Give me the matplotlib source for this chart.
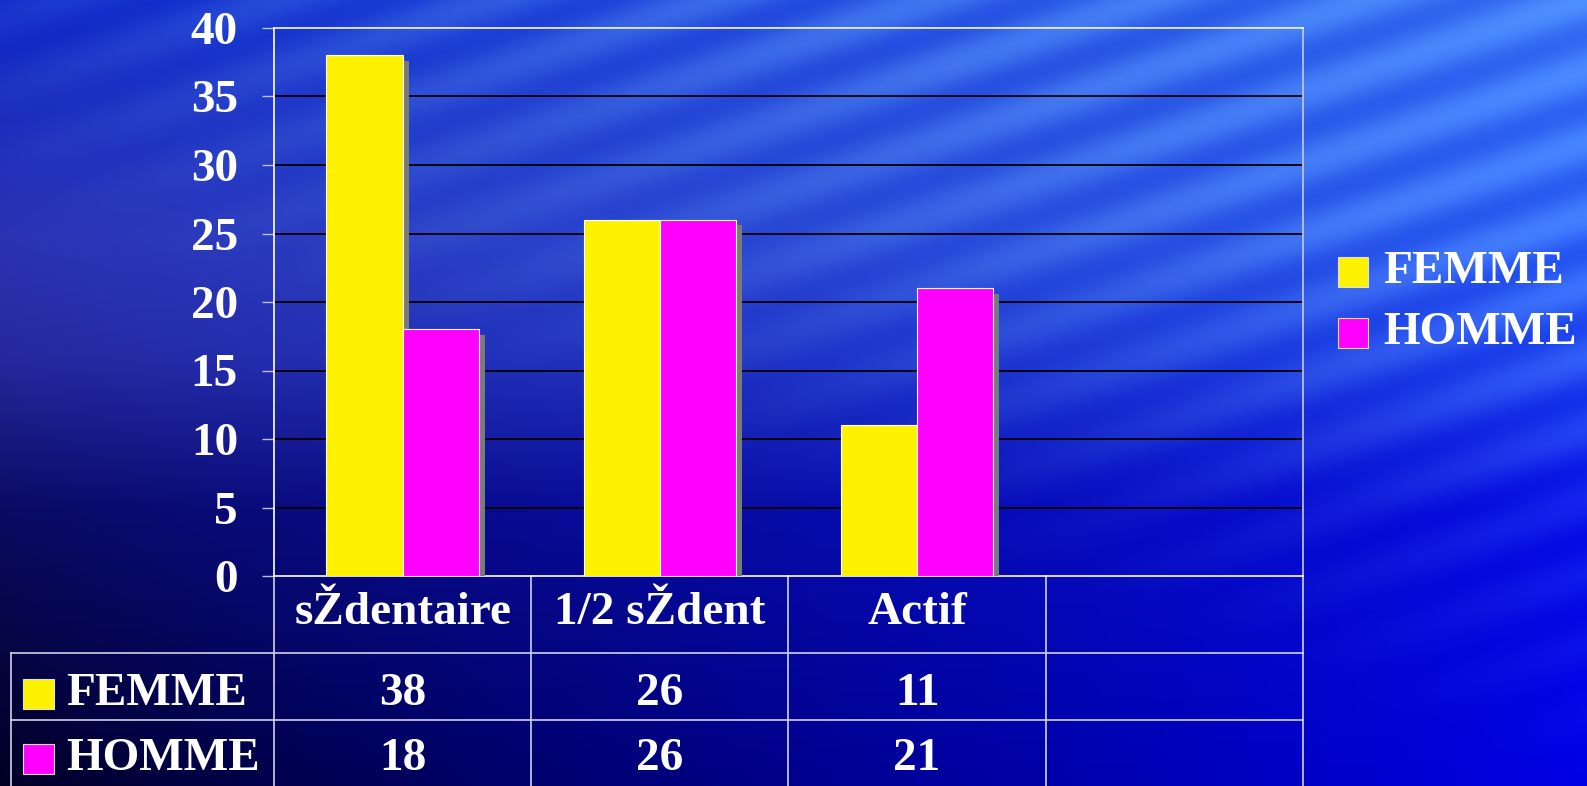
import numpy as np
import matplotlib
matplotlib.use('Agg')
import matplotlib.pyplot as plt
import matplotlib.patheffects as pe
import matplotlib.transforms as mtransforms
from matplotlib.patches import Rectangle
from matplotlib.lines import Line2D

# data
categories = ['sŽdentaire', '1/2 sŽdent', 'Actif', '']
series_names = ['FEMME', 'HOMME']
femme = [38, 26, 11]
homme = [18, 26, 21]
yticks = [0, 5, 10, 15, 20, 25, 30, 35, 40]

W, H = 1587, 786
yellow = '#FFF200'
magenta = '#FF00FF'
font = dict(family='Liberation Serif', weight='bold', size=34, color='white')

fig = plt.figure(figsize=(W / 100, H / 100), dpi=100)

# background: blue gradient with light diagonal streaks
yy, xx = np.mgrid[0:H, 0:W].astype(float)
xf, yf = xx / W, yy / H
knots = [0, 0.3, 0.45, 0.65, 1.0]
left = {'r': [0.05, 0.17, 0.15, 0.04, 0.0],
        'g': [0.15, 0.20, 0.16, 0.04, 0.0],
        'b': [0.78, 0.70, 0.62, 0.38, 0.14]}
right = {'r': [0.20, 0.15, 0.10, 0.02, 0.0],
         'g': [0.42, 0.35, 0.25, 0.05, 0.0],
         'b': [0.95, 0.95, 0.93, 0.90, 0.90]}
w = xf ** 0.9
bg = np.zeros((H, W, 3))
streak = 0.5 + 0.5 * np.sin(2 * np.pi * (yy + 0.33 * xx) / 72)
amp = np.clip(1.2 * xf - 1.6 * yf + 0.4, 0, 1) * 0.18
for i, c in enumerate('rgb'):
    lv = np.interp(yf, knots, left[c])
    rv = np.interp(yf, knots, right[c])
    bg[..., i] = lv * (1 - w) + rv * w + amp * streak * [0.6, 0.8, 0.3][i]
bg = np.clip(bg, 0, 1)
bax = fig.add_axes([0, 0, 1, 1], zorder=-10)
bax.imshow(bg, aspect='auto', interpolation='bilinear')
bax.axis('off')

# main axes
ax_l, ax_r, ax_t, ax_b = 274, 1303, 28, 576
ax = fig.add_axes([ax_l / W, 1 - ax_b / H, (ax_r - ax_l) / W, (ax_b - ax_t) / H])
ax.patch.set_alpha(0)

x = np.arange(len(femme))
bw = 0.296
shadow = [pe.SimplePatchShadow(offset=(4.3, -3.8), shadow_rgbFace='#7a7a7a', alpha=1.0), pe.Normal()]
ax.bar(x - bw / 2, femme, bw, color=yellow, edgecolor='white', linewidth=0.8, path_effects=shadow, zorder=3)
ax.bar(x + bw / 2, homme, bw, color=magenta, edgecolor='white', linewidth=0.8, path_effects=shadow, zorder=3)

ax.set_xlim(-0.5, len(categories) - 0.5)
ax.set_ylim(0, 40)
ax.set_yticks(yticks)
ax.set_yticklabels([str(v) for v in yticks], fontdict=font)
ax.tick_params(axis='y', colors='#c0c0dc', labelcolor='white', length=9, width=1, pad=17)
ax.set_xticks([])
ax.grid(axis='y', color='black', linewidth=1.3, zorder=1)
ax.set_axisbelow(True)
for s in ['left', 'top', 'bottom']:
    ax.spines[s].set_color('white')
    ax.spines[s].set_linewidth(1.2)
ax.spines['right'].set_color('#c8c8e8')
ax.spines['right'].set_linewidth(1.2)

# data table under the axes
def yaf(px):
    return (ax_b - px) / (ax_b - ax_t)

trans = mtransforms.blended_transform_factory(ax.transData, ax.transAxes)
xleft = (11 - ax_l) / ((ax_r - ax_l) / len(categories)) - 0.5
lc = '#d0d0e8'
for xb in np.arange(len(categories) + 1) - 0.5:
    ax.add_line(Line2D([xb, xb], [0, yaf(800)], transform=trans, color=lc, lw=1.2, clip_on=False))
ax.add_line(Line2D([xleft, xleft], [yaf(653), yaf(800)], transform=trans, color=lc, lw=1.2, clip_on=False))
for yl in [653, 720]:
    ax.add_line(Line2D([xleft, len(categories) - 0.5], [yaf(yl), yaf(yl)], transform=trans,
                       color=lc, lw=1.2, clip_on=False))

for i, cat in enumerate(categories):
    ax.text(i, yaf(613), cat, transform=trans, ha='center', va='center', **font)

rows = [(femme, yellow, 694), (homme, magenta, 759)]
for (vals, col, yc), name in zip(rows, series_names):
    for i, v in enumerate(vals):
        ax.text(i, yaf(yc), str(v), transform=trans, ha='center', va='center', **font)
    fig.patches.append(Rectangle((23 / W, 1 - (yc + 15) / H), 31 / W, 30 / H, transform=fig.transFigure,
                                 facecolor=col, edgecolor='#e0e0e0', lw=0.8))
    fig.text(66 / W, 1 - yc / H, name, ha='left', va='center', **font)

# legend on the right
for (name, col, yc) in [('FEMME', yellow, 272), ('HOMME', magenta, 333)]:
    fig.patches.append(Rectangle((1338 / W, 1 - (yc + 15) / H), 30 / W, 30 / H, transform=fig.transFigure,
                                 facecolor=col, edgecolor='#e0e0e0', lw=0.8))
    fig.text(1383 / W, 1 - yc / H, name, ha='left', va='center', **font)

fig.savefig('out.png', dpi=100)
